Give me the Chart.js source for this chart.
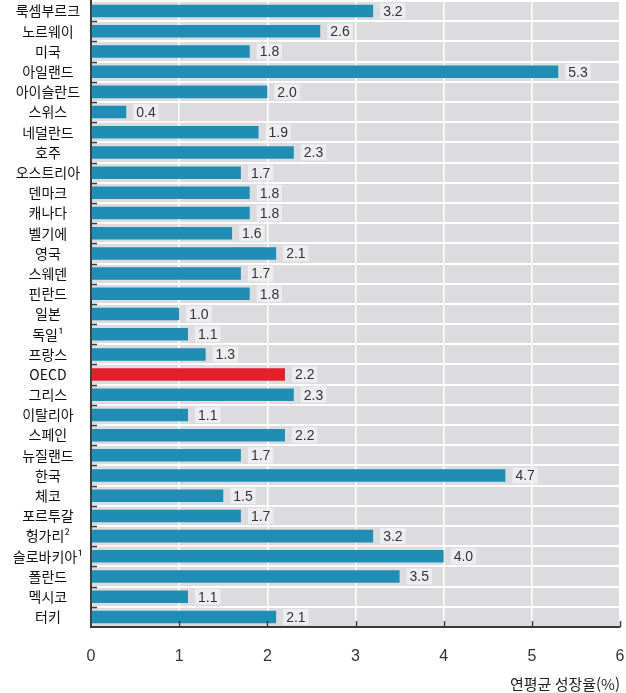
<!DOCTYPE html>
<html lang="ko">
<head>
<meta charset="utf-8">
<title>연평균 성장율</title>
<script src="https://cdn.jsdelivr.net/npm/chart.js@4.4.1/dist/chart.umd.min.js"></script>
<style>
    html, body { margin: 0; padding: 0; background: #fff; overflow: hidden; }
    #wrap { width: 626px; height: 693px; }
    canvas { display: block; }
</style>
</head>
<body>
<div id="wrap"><canvas id="growthChart" width="626" height="693"></canvas></div>
<script>
// 국가별 연평균 성장율(%)
const countries = [
    '룩셈부르크', '노르웨이', '미국', '아일랜드', '아이슬란드', '스위스', '네덜란드', '호주',
    '오스트리아', '덴마크', '캐나다', '벨기에', '영국', '스웨덴', '핀란드', '일본',
    '독일¹', '프랑스', 'OECD', '그리스', '이탈리아', '스페인', '뉴질랜드', '한국',
    '체코', '포르투갈', '헝가리²', '슬로바키아¹', '폴란드', '멕시코', '터키'
];
const growthRates = [
    3.2, 2.6, 1.8, 5.3, 2.0, 0.4, 1.9, 2.3,
    1.7, 1.8, 1.8, 1.6, 2.1, 1.7, 1.8, 1.0,
    1.1, 1.3, 2.2, 2.3, 1.1, 2.2, 1.7, 4.7,
    1.5, 1.7, 3.2, 4.0, 3.5, 1.1, 2.1
];
const xTicks = [0, 1, 2, 3, 4, 5, 6];
const axisTitle = '연평균 성장율(%)';

const barColor = '#1f8db4';
const oecdColor = '#e0202a';
const korFont = "'Noto Sans CJK KR', 'Noto Sans', sans-serif";
const numFont = "'Liberation Sans', Arial, sans-serif";

// 회색 배경
const plotBackground = {
    id: 'plotBackground',
    beforeDraw(chart) {
        const { ctx, chartArea: a } = chart;
        ctx.save();
        ctx.fillStyle = '#dcdcde';
        ctx.fillRect(a.left, a.top, a.right - a.left, a.bottom - a.top);
        ctx.restore();
    }
};

// 축 안쪽 눈금 + 막대 끝 수치
const innerTicksAndValues = {
    id: 'innerTicksAndValues',
    afterDatasetsDraw(chart) {
        const { ctx, chartArea: a, scales } = chart;
        const x = scales.x;
        ctx.save();
        ctx.strokeStyle = '#3a3a3a';
        ctx.lineWidth = 1.5;
        const step = (a.bottom - a.top) / countries.length;
        for (let i = 1; i < countries.length; i++) {
            const yy = Math.round(a.top + step * i) + 0.5;
            ctx.beginPath();
            ctx.moveTo(a.left, yy);
            ctx.lineTo(a.left + 6, yy);
            ctx.stroke();
        }
        xTicks.slice(1).forEach(v => {
            const xx = Math.round(x.getPixelForValue(v)) + 0.5;
            ctx.beginPath();
            ctx.moveTo(xx, a.bottom);
            ctx.lineTo(xx, a.bottom - 6);
            ctx.stroke();
        });

        ctx.font = '14px ' + numFont;
        ctx.textBaseline = 'middle';
        ctx.textAlign = 'left';
        chart.getDatasetMeta(0).data.forEach((bar, i) => {
            const text = growthRates[i].toFixed(1);
            const tx = bar.x + 10;
            const w = ctx.measureText(text).width;
            ctx.fillStyle = 'rgba(240,240,242,0.85)';
            ctx.fillRect(tx - 3, bar.y - 8, w + 6, 16);
            ctx.fillStyle = '#333';
            ctx.fillText(text, tx, bar.y + 1);
        });
        ctx.restore();
    }
};

new Chart(document.getElementById('growthChart'), {
    type: 'bar',
    data: {
        labels: countries,
        datasets: [{
            data: growthRates,
            backgroundColor: countries.map(c => c === 'OECD' ? oecdColor : barColor),
            barPercentage: 0.62,
            categoryPercentage: 1
        }]
    },
    options: {
        indexAxis: 'y',
        responsive: false,
        animation: false,
        layout: { padding: { top: 1, right: 6, left: 0, bottom: 0 } },
        plugins: {
            legend: { display: false },
            tooltip: { enabled: false }
        },
        scales: {
            x: {
                min: 0,
                max: 6,
                afterBuildTicks: s => { s.ticks = xTicks.map(v => ({ value: v })); },
                afterFit: s => {
                    // 눈금 여백(padding)이 좌우 여백으로 잡히지 않도록
                    s.height = 66;
                    s.paddingLeft = 0;
                    s.paddingRight = 0;
                },
                grid: { color: '#ffffff', lineWidth: 1.5, drawTicks: false },
                border: { display: true, color: '#3a3a3a', width: 2 },
                ticks: {
                    padding: 20,
                    color: '#333',
                    font: { family: numFont, size: 16 }
                },
                title: {
                    display: true,
                    text: axisTitle,
                    align: 'end',
                    color: '#222',
                    padding: { top: 4, bottom: 0 },
                    font: { family: korFont, size: 15 }
                }
            },
            y: {
                afterFit: s => {
                    s.width = 91;
                    s.paddingTop = 0;
                    s.paddingBottom = 0;
                },
                grid: { offset: true, color: '#ffffff', lineWidth: 2, drawTicks: false },
                border: { display: true, color: '#3a3a3a', width: 2 },
                ticks: {
                    crossAlign: 'center',
                    padding: 8,
                    color: '#111',
                    autoSkip: false,
                    font: { family: korFont, size: 14 }
                }
            }
        }
    },
    plugins: [plotBackground, innerTicksAndValues]
});
</script>
</body>
</html>
